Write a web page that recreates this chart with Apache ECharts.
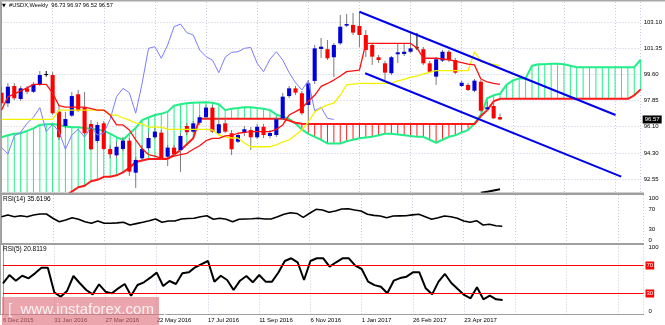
<!DOCTYPE html>
<html>
<head>
<meta charset="utf-8">
<script src="https://cdn.jsdelivr.net/npm/echarts@6/dist/echarts.min.js"></script>
<style>
  html, body { margin: 0; padding: 0; background: #ffffff; }
  #chart { width: 665px; height: 325px; }
</style>
</head>
<body>
<div id="chart"></div>
<script>
// Weekly US Dollar Index with Ichimoku cloud, channel lines and two RSI panes.
const symbolName = '#USDX,Weekly';
const dateLabels = ['6 Dec 2015', '31 Jan 2016', '27 Mar 2016', '22 May 2016', '17 Jul 2016',
  '11 Sep 2016', '6 Nov 2016', '1 Jan 2017', '26 Feb 2017', '23 Apr 2017'];
const priceTicks = [92.55, 94.30, 96.10, 97.85, 99.60, 101.35, 103.10];
const rsiTicks = [0, 30, 70, 100];
const rsiLevels = [70, 30];

// weekly bars, oldest first
const openP = [98.38, 97.66, 98.83, 97.95, 98.67, 98.44, 98.94, 99.64, 99.57, 97.10,
  96.13, 96.83, 98.27, 97.39, 96.27, 95.12, 96.31, 94.58, 94.15, 94.58,
  95.14, 92.98, 93.95, 94.63, 95.37, 95.68, 94.06, 94.67, 94.51, 96.13,
  95.75, 96.35, 96.72, 97.37, 95.64, 96.31, 95.64, 95.07, 95.68, 95.86,
  95.37, 96.08, 95.46, 95.52, 96.65, 98.15, 98.67, 98.34, 97.55, 99.17,
  101.33, 101.31, 100.77, 101.71, 102.90, 102.95, 102.88, 102.27, 101.60, 100.77,
  100.36, 99.69, 100.97, 100.99, 101.14, 101.44, 101.31, 100.36, 99.46, 100.54,
  101.14, 100.58, 98.83, 98.90, 98.51, 99.12, 97.26, 97.48, 96.73];
const highP = [98.76, 99.03, 99.03, 98.83, 98.83, 99.10, 99.84, 99.84, 99.77, 97.55,
  97.08, 98.42, 98.56, 98.42, 96.53, 96.40, 96.47, 94.85, 95.05, 95.39,
  95.32, 94.04, 94.85, 95.66, 96.00, 95.86, 94.85, 94.85, 95.66, 96.33,
  96.47, 96.87, 97.55, 97.55, 96.67, 96.67, 95.86, 95.66, 96.13, 96.06,
  96.27, 96.27, 95.86, 96.74, 98.36, 98.83, 98.83, 98.49, 99.23, 101.60,
  102.07, 101.93, 101.73, 103.62, 103.69, 103.76, 103.82, 102.61, 101.73, 100.92,
  100.52, 100.85, 101.73, 101.73, 102.41, 102.41, 101.46, 100.52, 100.79, 101.26,
  101.26, 100.72, 99.17, 99.03, 99.30, 99.23, 97.75, 97.88, 96.97];
const lowP = [97.48, 97.41, 97.88, 97.82, 98.29, 98.36, 98.83, 99.46, 96.87, 95.19,
  96.00, 96.74, 97.08, 95.52, 94.51, 94.98, 94.51, 93.97, 93.97, 94.44,
  92.76, 91.95, 93.84, 94.51, 95.25, 93.84, 93.43, 94.11, 93.03, 95.52,
  95.66, 96.20, 96.60, 95.66, 95.52, 95.66, 94.17, 94.98, 95.46, 94.51,
  95.25, 95.32, 95.30, 95.39, 96.53, 98.02, 98.22, 96.87, 96.20, 98.96,
  100.72, 100.58, 99.44, 101.60, 102.81, 102.27, 101.46, 100.79, 100.25, 100.38,
  99.23, 99.57, 100.38, 100.85, 101.06, 101.26, 100.25, 99.71, 98.90, 100.45,
  100.45, 99.64, 98.76, 98.49, 98.42, 97.08, 97.14, 96.60, 96.52];
const closeP = [97.66, 98.78, 98.00, 98.67, 98.44, 98.94, 99.57, 99.62, 96.99, 95.37,
  96.60, 98.15, 97.16, 95.64, 94.56, 96.20, 94.58, 94.22, 94.73, 95.14,
  93.05, 93.84, 94.58, 95.32, 95.75, 93.95, 94.67, 94.24, 95.46, 95.71,
  96.31, 96.72, 97.37, 95.75, 96.25, 95.75, 94.56, 95.52, 95.91, 95.37,
  96.08, 95.52, 95.66, 96.58, 98.11, 98.67, 98.38, 96.99, 99.01, 101.37,
  101.48, 100.70, 101.60, 102.83, 103.01, 102.43, 102.27, 101.26, 100.81, 100.58,
  99.73, 100.77, 101.10, 101.14, 101.37, 101.43, 100.36, 99.79, 100.63, 101.14,
  100.58, 99.73, 99.05, 98.56, 99.19, 97.16, 97.39, 96.65, 96.57];

// Ichimoku lines
const tenkan = [97.20, 98.10, 98.30, 98.50, 98.70, 98.94, 98.94, 98.94, 98.35, 97.50,
  97.40, 97.40, 97.40, 97.40, 97.30, 97.20, 97.20, 96.87, 96.20, 96.20,
  95.86, 95.19, 94.60, 94.20, 94.10, 93.95, 93.95, 94.10, 94.20, 94.29,
  94.56, 94.80, 95.14, 95.30, 95.30, 95.46, 95.50, 95.64, 95.70, 95.75,
  95.75, 95.75, 95.75, 95.90, 96.20, 96.87, 97.10, 97.34, 97.80, 98.20,
  98.80, 99.00, 99.23, 99.50, 99.80, 99.85, 99.90, 101.70, 101.70, 101.70,
  101.70, 101.70, 101.70, 101.70, 101.70, 101.40, 100.70, 100.70, 100.70, 100.65,
  100.60, 100.50, 100.40, 100.30, 100.25, 99.30, 99.10, 99.00, 98.94];
const kijun = [96.58, 96.58, 96.58, 96.58, 96.58, 96.58, 96.58, 96.58, 96.58, 97.20,
  97.20, 97.20, 97.20, 97.20, 97.20, 97.20, 97.20, 96.87, 96.87, 96.67,
  96.53, 96.33, 96.27, 96.06, 96.06, 96.06, 95.90, 95.90, 95.90, 95.90,
  95.90, 95.90, 95.90, 95.86, 95.52, 95.39, 95.32, 95.32, 94.98, 94.73,
  94.73, 94.73, 94.73, 94.85, 95.05, 95.19, 95.52, 95.86, 96.40, 97.07,
  97.34, 97.55, 97.68, 98.22, 98.90, 98.96, 99.01, 99.01, 99.01, 99.01,
  99.01, 99.01, 99.17, 99.27, 99.42, 99.50, 99.64, 99.74, 99.87, 99.87,
  99.87, 99.87, 99.87, 99.87, 101.14, 100.47, 100.38, 100.28, 100.20];
const spanA = [95.37, 95.50, 95.60, 95.64, 95.80, 95.97, 96.20, 96.25, 96.26, 96.20,
  96.10, 96.05, 96.04, 96.00, 95.95, 95.90, 95.80, 95.62, 95.37, 95.19,
  95.60, 96.00, 96.53, 96.70, 96.87, 96.95, 97.10, 97.50, 97.60, 97.66,
  97.70, 97.72, 97.73, 97.70, 97.60, 97.20, 97.30, 97.34, 97.40, 97.40,
  97.34, 97.30, 97.20, 96.90, 96.75, 96.60, 96.30, 95.90, 95.60, 95.40,
  95.20, 94.95, 94.95, 94.95, 95.10, 95.20, 95.30, 95.35, 95.40, 95.50,
  95.60, 95.60, 95.55, 95.50, 95.45, 95.40, 95.40, 95.20, 95.00, 95.20,
  95.40, 95.50, 95.70, 95.85, 96.30, 96.90, 98.00, 98.20, 98.30, 98.90,
  99.20, 99.34, 99.34, 100.20, 100.30, 100.30, 100.33, 100.33, 100.30, 100.20,
  100.10, 100.10, 100.10, 100.10, 100.10, 100.10, 100.10, 100.10, 100.10, 100.10,
  100.60];
const spanB = [91.40, 91.40, 91.40, 91.40, 91.40, 91.40, 91.40, 91.40, 91.40, 91.40,
  91.40, 91.70, 92.00, 92.10, 92.40, 92.50, 92.70, 92.70, 92.80, 93.00,
  93.30, 93.70, 93.80, 93.90, 93.90, 93.90, 93.90, 94.20, 94.50, 94.90,
  95.30, 96.62, 96.62, 96.62, 96.62, 96.62, 96.62, 96.62, 96.62, 96.62,
  96.62, 96.62, 96.62, 96.62, 96.62, 96.49, 96.35, 96.28, 96.26, 96.26,
  96.26, 96.26, 96.26, 96.26, 96.26, 96.26, 96.26, 96.26, 96.26, 96.26,
  96.26, 96.26, 96.26, 96.26, 96.26, 96.26, 96.26, 96.26, 96.26, 96.26,
  96.26, 96.26, 96.26, 96.26, 96.26, 96.80, 97.20, 97.80, 97.96, 97.96,
  97.96, 97.96, 97.96, 97.96, 97.96, 97.96, 97.96, 97.96, 97.96, 97.96,
  97.96, 97.96, 97.96, 97.96, 97.96, 97.96, 97.96, 97.96, 97.96, 98.20,
  98.60];

// oscillators
const rsi14 = [55.3, 58.8, 55.3, 57.3, 55.3, 58.8, 60.8, 60.8, 52.0, 45.0,
  48.5, 53.2, 49.9, 45.0, 41.6, 46.4, 41.6, 41.6, 42.5, 43.7,
  38.1, 41.0, 43.7, 47.0, 50.5, 43.7, 46.4, 46.4, 50.5, 51.5,
  52.0, 55.3, 57.3, 49.9, 52.0, 50.0, 45.0, 49.9, 50.5, 51.0,
  52.0, 50.5, 50.5, 55.0, 60.2, 63.5, 62.0, 54.0, 62.3, 70.5,
  69.0, 64.3, 67.0, 71.1, 71.5, 69.0, 67.0, 60.2, 58.0, 56.7,
  53.2, 56.7, 57.0, 57.3, 59.0, 60.2, 55.3, 49.9, 53.0, 56.7,
  55.0, 52.0, 46.4, 43.7, 47.0, 38.1, 39.6, 36.7, 35.6196];
const rsi5 = [44.6, 56.4, 48.3, 55.4, 51.7, 58.8, 66.9, 66.9, 31.7, 25.4,
  33.6, 55.0, 44.6, 35.0, 28.8, 43.1, 32.6, 30.2, 37.4, 43.6,
  26.9, 42.1, 46.0, 52.6, 59.8, 40.7, 47.9, 43.6, 58.8, 60.2,
  67.4, 72.0, 76.4, 46.9, 55.4, 49.3, 35.0, 48.3, 55.0, 46.0,
  56.4, 46.9, 46.9, 60.0, 76.4, 80.3, 74.6, 49.3, 76.4, 80.3,
  80.3, 68.3, 74.6, 80.3, 80.3, 69.7, 65.0, 46.9, 42.0, 39.7,
  30.3, 48.3, 52.0, 54.0, 60.2, 60.2, 37.4, 28.8, 46.9, 57.9,
  45.0, 36.4, 27.9, 23.1, 38.9, 21.7, 26.9, 21.7, 20.8119];

// hand-drawn descending channel: [week index, price]
const channelUpper = [[56.0, 103.84], [96.07, 96.87]];
const channelLower = [[56.9, 99.69], [96.96, 92.71]];
// tail of an indicator plotted below the price range
const lowerTail = [[75, 91.62], [76, 91.70], [77, 91.78], [78, 91.86]];

const WEEKS_SHOWN = 100;
const lastIdx = closeP.length - 1;

const C = {
  bull: '#0000d8', bear: '#ff0000', doji: '#000000', wick: '#7a7a7a',
  tenkan: '#ff1010', kijun: '#f2f200', chikou: '#7c7cff',
  spanA: '#22ee88', spanB: '#ff1a1a', hatchUp: '#22ee88', hatchDown: '#ff2020',
  channel: '#0000ee', grid: '#c9c9dd', frame: '#9a9a9a', text: '#000000'
};
const FONT = 'Liberation Sans, Arial, sans-serif';

const pts = arr => arr.map((v, i) => [i, v]);
const chikou = closeP.slice(26).map((v, i) => [i, v]);

const candleData = closeP.map((c, i) => [i, openP[i], highP[i], lowP[i], c]);
const cloudData = spanA.map((a, i) => [i, a, spanB[i]]);

function renderCandle(params, api) {
  const i = api.value(0), o = api.value(1), h = api.value(2), l = api.value(3), c = api.value(4);
  const pO = api.coord([i, o]), pC = api.coord([i, c]);
  const yH = api.coord([i, h])[1], yL = api.coord([i, l])[1];
  const x = pO[0];
  const w = api.size([1, 0])[0] * 0.64;
  const doji = Math.abs(c - o) < 0.03;
  const fill = doji ? C.doji : (c > o ? C.bull : C.bear);
  const top = Math.min(pO[1], pC[1]);
  const hgt = Math.max(1, Math.abs(pC[1] - pO[1]));
  return {
    type: 'group',
    children: [
      { type: 'line', shape: { x1: x, y1: yH, x2: x, y2: yL }, style: { stroke: doji ? C.doji : C.wick, lineWidth: 1 } },
      { type: 'rect', shape: { x: x - w / 2, y: top, width: w, height: hgt }, style: { fill: fill } }
    ]
  };
}

function renderHatch(params, api) {
  const i = api.value(0), a = api.value(1), b = api.value(2);
  const pa = api.coord([i, a]), pb = api.coord([i, b]);
  return {
    type: 'line',
    shape: { x1: pa[0], y1: pa[1], x2: pb[0], y2: pb[1] },
    style: { stroke: a >= b ? C.hatchUp : C.hatchDown, lineWidth: 1 }
  };
}

const gridBase = { left: 1.5, right: 21.5 };
const xCommon = (gi, showLabels) => ({
  type: 'value', gridIndex: gi, min: 0, max: WEEKS_SHOWN, interval: 8,
  axisLine: { show: false }, axisTick: { show: false },
  splitLine: { show: true, lineStyle: { color: C.grid, type: [1, 2], width: 1 } },
  axisLabel: showLabels ? {
    show: true, align: 'left', margin: 3, fontSize: 6, fontFamily: FONT, color: C.text,
    formatter: v => dateLabels[v / 8] || ''
  } : { show: false }
});

const lineSeries = (name, data, color, width, extra) => Object.assign({
  name, type: 'line', xAxisIndex: 0, yAxisIndex: 0, data,
  showSymbol: false, symbol: 'none', clip: true, silent: true,
  lineStyle: { color, width }, z: 4
}, extra || {});

const option = {
  animation: false,
  backgroundColor: '#ffffff',
  grid: [
    Object.assign({ top: 2, height: 190 }, gridBase),
    Object.assign({ top: 195, height: 48.5 }, gridBase),
    Object.assign({ top: 244.5, height: 70 }, gridBase)
  ],
  xAxis: [xCommon(0, false), xCommon(1, false), xCommon(2, true)],
  yAxis: [
    {
      type: 'value', gridIndex: 0, position: 'right', min: 91.676, max: 104.497,
      axisLine: { show: true, lineStyle: { color: C.frame, width: 1 } },
      axisTick: { show: false, customValues: priceTicks },
      splitLine: { show: true, lineStyle: { color: C.grid, type: [1, 2], width: 1 } },
      axisLabel: { customValues: priceTicks, margin: 3, fontSize: 6, fontFamily: FONT, color: C.text,
        formatter: v => v.toFixed(2) }
    },
    {
      type: 'value', gridIndex: 1, position: 'right', min: 0, max: 100,
      axisLine: { show: true, lineStyle: { color: C.frame, width: 1 } },
      axisTick: { show: false, customValues: rsiTicks },
      splitLine: { show: false },
      axisLabel: { customValues: rsiTicks, margin: 5, fontSize: 6, fontFamily: FONT, color: C.text,
        verticalAlignMinLabel: 'bottom', verticalAlignMaxLabel: 'top' }
    },
    {
      type: 'value', gridIndex: 2, position: 'right', min: 0, max: 100,
      axisLine: { show: true, lineStyle: { color: C.frame, width: 1 } },
      axisTick: { show: false, customValues: [0, 100] },
      splitLine: { show: false },
      axisLabel: { customValues: [0, 100], margin: 5, fontSize: 6, fontFamily: FONT, color: C.text,
        verticalAlignMinLabel: 'bottom', verticalAlignMaxLabel: 'top' }
    }
  ],
  series: [
    {
      name: 'cloud', type: 'custom', xAxisIndex: 0, yAxisIndex: 0, data: cloudData,
      renderItem: renderHatch, clip: true, silent: true, z: 1
    },
    lineSeries('Senkou Span A', pts(spanA), C.spanA, 2, { z: 2 }),
    lineSeries('Senkou Span B', pts(spanB), C.spanB, 2, { z: 2 }),
    {
      name: 'USDX', type: 'custom', xAxisIndex: 0, yAxisIndex: 0, data: candleData,
      renderItem: renderCandle, clip: true, silent: true, z: 3
    },
    lineSeries('Chikou', chikou, C.chikou, 1),
    lineSeries('Kijun', pts(kijun), C.kijun, 1.3),
    lineSeries('Tenkan', pts(tenkan), C.tenkan, 1.3, {
      markLine: {
        silent: true, symbol: 'none',
        lineStyle: { color: 'rgba(0,0,0,0)', width: 1 },
        label: {
          show: true, position: 'end', distance: 2, formatter: closeP[lastIdx].toFixed(2),
          backgroundColor: '#000000', color: '#ffffff', fontSize: 6, fontFamily: FONT, padding: [1, 2, 1, 2]
        },
        data: [{ yAxis: closeP[lastIdx] }]
      }
    }),
    lineSeries('Channel top', channelUpper, C.channel, 2, { z: 5 }),
    lineSeries('Channel bottom', channelLower, C.channel, 2, { z: 5 }),
    lineSeries('Lower tail', lowerTail, '#000000', 2, { z: 5 }),
    {
      name: 'RSI(14)', type: 'line', xAxisIndex: 1, yAxisIndex: 1, data: pts(rsi14),
      showSymbol: false, symbol: 'none', silent: true, lineStyle: { color: '#000000', width: 1.6 }
    },
    {
      name: 'RSI(5)', type: 'line', xAxisIndex: 2, yAxisIndex: 2, data: pts(rsi5),
      showSymbol: false, symbol: 'none', silent: true, lineStyle: { color: '#000000', width: 2 },
      markLine: {
        silent: true, symbol: 'none',
        lineStyle: { color: '#ff0000', width: 1, type: 'solid' },
        label: {
          show: true, position: 'end', distance: 2, formatter: '{c}',
          backgroundColor: '#ff0000', color: '#ffffff', fontSize: 6, fontFamily: FONT, padding: [1, 1, 1, 1]
        },
        data: rsiLevels.map(v => ({ yAxis: v }))
      }
    }
  ],
  graphic: [
    // pane frame and separators
    { type: 'rect', shape: { x: 0, y: 0, width: 665, height: 1.5 }, style: { fill: '#a8a8a8' }, z: 10 },
    { type: 'rect', shape: { x: 0, y: 0, width: 1, height: 315 }, style: { fill: '#a8a8a8' }, z: 10 },
    { type: 'rect', shape: { x: 0, y: 192.5, width: 644, height: 2.5 }, style: { fill: '#a0a0a0' }, z: 10 },
    { type: 'rect', shape: { x: 0, y: 243, width: 644, height: 2 }, style: { fill: '#a0a0a0' }, z: 10 },
    { type: 'rect', shape: { x: 0, y: 314, width: 644, height: 1 }, style: { fill: '#a0a0a0' }, z: 10 },
    // pane headers
    { type: 'text', left: 2, top: 3, style: { text: '\u25BC', fill: '#000', font: '5px DejaVu Sans' }, z: 10 },
    { type: 'text', left: 9, top: 2.5, style: {
        text: symbolName + '  ' + [openP[lastIdx], highP[lastIdx], lowP[lastIdx], closeP[lastIdx]].map(v => v.toFixed(2)).join(' '),
        fill: '#000', font: '5.7px ' + FONT }, z: 10 },
    { type: 'text', left: 3, top: 196, style: { text: 'RSI(14) ' + rsi14[lastIdx].toFixed(4), fill: '#000', font: '6.5px ' + FONT }, z: 10 },
    { type: 'text', left: 3, top: 246, style: { text: 'RSI(5) ' + rsi5[lastIdx].toFixed(4), fill: '#000', font: '6.5px ' + FONT }, z: 10 },
    // watermark
    { type: 'rect', shape: { x: 2, y: 297, width: 157, height: 28 }, style: { fill: 'rgba(222,110,122,0.62)' }, z: 11 },
    { type: 'text', left: 8, top: 302, style: { text: '[  www.instaforex.com  ]', fill: 'rgba(255,255,255,0.85)', font: '15px ' + FONT }, z: 12 }
  ]
};

const chart = echarts.init(document.getElementById('chart'), null, { renderer: 'canvas' });
chart.setOption(option);
</script>
</body>
</html>
